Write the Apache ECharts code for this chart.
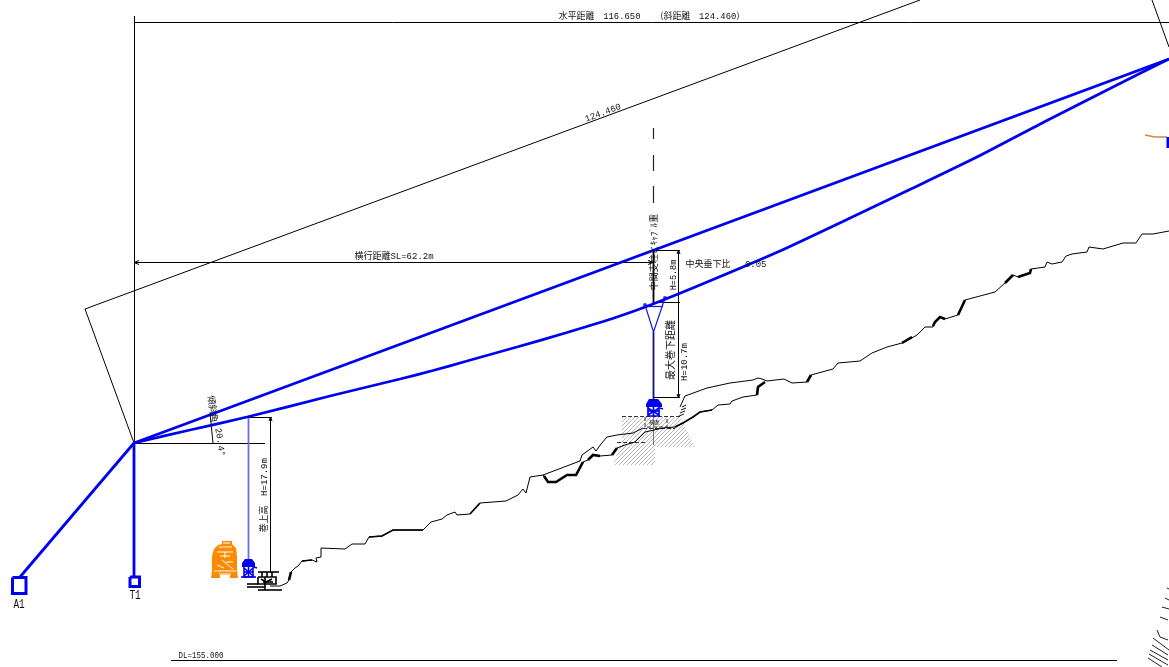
<!DOCTYPE html>
<html><head><meta charset="utf-8">
<style>html,body{margin:0;padding:0;background:#fff}#c{width:1169px;height:667px}</style>
<script src="https://cdn.jsdelivr.net/npm/echarts@6/dist/echarts.min.js"></script>
</head><body><div id="c"></div>
<script>
// All values are in drawing units of the sheet (x to the right, y downward).
const chordLine = [[134,443],[1169,59]];
const cableLine = [[134,443],[190,430],[247,417],[330,396],[400,379],[433,370.5],[467,361],[517,347],[567,332.5],[617,317],[653,304],[700,285],[780,251],[847,219.5],[913,188],[980,155.5],[1047,120.5],[1113,87],[1169,59]];
const anchorStays = [[[134,443],[20,577]],[[134,443],[134,577]]];
const anchorBoxes = [[[12.5,577.5],[26,577.5],[26,593.5],[12.5,593.5],[12.5,577.5]],[[130,577],[139.5,577],[139.5,586.5],[130,586.5],[130,577]]];
const carriageDrop = [[[248.5,417],[248.5,560]]];
const supportDrop = [[[653.5,332],[653.5,400]]];
const supportFrame = [[[645,305],[653.5,332],[665,298]],[[645,306.5],[663,306.5]]];
const supportPins = [[645,305],[665,298]];
const stationEdge = [[[1168,137],[1168,148]]];
const dimensionLines = [
  [[134.5,16],[134.5,443]],[[134,22.5],[1169,22.5]],
  [[85,309],[920,0]],[[85,309],[134,443]],[[1152,0],[1169,47]],
  [[134,262.5],[653,262.5]],[[134,443.5],[265,443.5]],
  [[248,417.5],[272,417.5]],[[270.5,417],[270.5,573]],
  [[653,250.5],[680,250.5]],[[653,302.5],[680,302.5]],[[653,397.5],[680,397.5]],[[678.5,250],[678.5,398]],
  [[210,413],[213,443]],
  [[171,660.5],[1117,660.5]],
  [[139,260.5],[134,262.5],[139,264.5]],[[648,260.5],[653,262.5],[648,264.5]],
  [[677,254],[678.5,250],[680,254]],[[677,394],[678.5,398],[680,394]],[[269,421],[270.5,417],[272,421]]
];
const mastUpper = [[[653.5,250],[653.5,304]]];
const centerDashes = [[[653.5,128],[653.5,139]],[[653.5,155],[653.5,171]],[[653.5,186],[653.5,203]]];
const terrainMain = [[270,586],[280,586],[287,583],[289,580],[291,572],[295,568],[298,566],[302,561],[312,560],[313,562],[317,562],[316,558],[321,557],[321,548],[345,549],[352,544],[365,544],[369,537],[382,536],[393,530],[423,530],[431,522],[442,519],[447,515],[455,512],[457,515],[470,514],[480,503],[506,501],[508,499],[518,495],[523,489],[526,493],[530,477],[543,475],[580,461],[582,455],[593,447],[596,451],[601,444],[607,437],[617,435],[633,433],[643,428]];
const terrainBank = [[680,407],[685,396],[707,388],[730,383],[753,380],[758,378],[762,379],[767,381]];
const terrainLower = [[543,475],[548,482],[556,482],[567,475],[576,475],[583,462],[588,460],[593,455],[600,456],[612,455],[617,448],[625,445],[635,442],[642,435],[645,432],[663,428],[675,427],[683,423],[693,417],[700,412],[712,410],[718,405],[730,404],[732,401],[743,397],[757,395],[758,387],[765,382]];
const terrainRight = [[767,381],[784,379],[792,383],[807,382],[811,375],[833,369],[838,363],[860,361],[872,353],[887,347],[902,343],[910,339],[917,335],[925,327],[933,327],[935,322],[940,317],[945,319],[958,315],[965,300],[995,292],[1005,283],[1013,275],[1018,277],[1030,273],[1031,269],[1045,267],[1047,262],[1052,264],[1062,262],[1066,256],[1072,254],[1087,252],[1089,247],[1103,249],[1123,243],[1136,243],[1142,234],[1153,234],[1169,231]];
const terrainMedium = [
  [[302,561],[312,560]],[[369,537],[382,536],[393,530],[423,530]],[[470,514],[480,503]],
  [[675,427],[683,423],[693,417],[700,412],[712,410]]
];
const terrainHeavy = [
  [[289,580],[291,572]],
  [[544,476],[548,482],[556,482],[567,475],[576,475],[583,462]],[[588,460],[593,455],[600,456]],[[612,455],[617,448]],
  [[757,395],[758,387],[765,382]],
  [[807,382],[811,375]],[[902,343],[912,337]],[[933,326],[935,322],[940,317],[945,319]],[[958,315],[965,300]],
  [[1005,283],[1013,275]],[[1018,277],[1030,273],[1031,269]]
];
const bankTeeth = [[[679,416],[684,414]],[[680,413],[685,411]],[[681,410],[686,408]],[[682,407],[686,405]]];
const foundationDashes = [[[622,416.5],[680,416.5]],[[645,417],[645,427],[667,427],[667,417]],[[643,428.5],[675,428.5]],[[617,442.5],[645,442.5]]];
const foundationAxis = [[[653.5,416],[653.5,445]]];
const groundHatch = [[622,417],[680,417],[695,447],[655,447],[655,465],[613,465],[622,440]];
const windlass = [
  [[258,572],[279,572]],[[262,572],[262,577]],[[267,572],[267,577]],[[272,572],[272,577]],
  [[258,577],[276,577],[276,584],[258,584],[258,577]],[[261,579],[266,582],[272,579]],[[263,582],[273,582]],
  [[247,584],[258,584]],[[247,587],[265,587]],[[258,590],[282,590]],[[265,577],[265,590]]
];
const bluePodADome = [[242,563],[245,559],[252,559],[255,563],[255,567],[242,567]];
const bluePodA = [
  [[244,567],[244,577],[253,577],[253,567]],
  [[248.5,567],[248.5,577]],[[244,572],[253,572]],[[244,568],[253,576]],[[253,568],[244,576]],[[254,567],[257,568]],[[241,577],[256,577]]
];
const bluePodBDome = [[646,404],[649,399],[658,399],[662,404],[662,407],[646,407]];
const bluePodB = [
  [[648,407],[648,416],[659,416],[659,407]],
  [[653.5,407],[653.5,416]],[[648,411],[659,411]],[[648,408],[659,415]],[[659,408],[648,415]],[[660,408],[663,409]]
];
const orangeBody = [[222,541],[232,541],[232,544],[236,548],[237,556],[237,571],[238,578],[230,578],[230,575],[220,575],[220,578],[211,578],[212,571],[212,556],[214,549],[218,545],[222,544]];
const orangeMarks = [[[223,543],[230,543]],[[219,547],[232,547]],[[217,552],[233,552]],[[225,552],[225,558]],[[220,556],[230,556]],[[222,560],[233,569]],[[226,562],[233,562]],[[217,565],[224,568]],[[214,571],[236,571]],[[219,574],[231,574]]];
const stationRope = [[1145,135],[1155,137],[1167,137]];
const fanStrokes = [
  [[1167,588],[1169,589]],[[1165,598],[1169,600]],[[1162,607],[1169,609]],[[1160,617],[1168,620]],
  [[1157,630],[1160,637],[1168,640]],[[1153,638],[1169,650]],[[1152,645],[1168,655]],[[1150,650],[1168,660]],[[1149,654],[1168,665]],[[1148,658],[1162,667]]
];
const labelTexts = ['水平距離　116.650　 （斜距離　124.460）','124.460','横行距離SL=62.2m','中央垂下比　 0.05','中間支柱とｷｬﾌﾞﾙ重','H=5.8m','最大巻下距離','H=10.7m','傾斜角','20.','4°','巻上高','H=17.9m','A1','T1','DL=155.000','基礎'];
const labelX = [652,603,394,726,655,674,671,685,212,219,221,265,265,19,135,201,654];
const labelY = [17,113,257,265,252,275,350,362,409,436,451,519,477,605,596,656,423];
const labelTurn = [0,20.4,0,0,90,90,90,90,-82,-80,-80,90,90,0,0,0,0];
const labelSize = [8.9,9,9,9,9,8.5,10,9,9,9,9,9,9,13,13,9,5];
const labelStretch = [1,1,1,1,1,1,1,1,1,1,1,1,1,0.72,0.72,0.83,1];

const FONT = '"Liberation Mono","Noto Sans CJK JP",monospace';
const BLUE = '#0000f0', INK = '#000';
const series = [];
function lines(list, color, width, type, z) {
  list.forEach(function (pts) {
    series.push({type:'line', data:pts, showSymbol:false, symbol:'none', silent:true, animation:false, z:z||2,
      lineStyle:{color:color, width:width, type:type||'solid', cap:'butt', join:'miter'}});
  });
}
function polygon(pts, fill, z) {
  series.push({type:'custom', coordinateSystem:'cartesian2d', silent:true, animation:false, z:z||1,
    data:[[pts[0][0],pts[0][1]]],
    encode:{x:0,y:1},
    renderItem:function (p, api) {
      return {type:'polygon', shape:{points:pts.map(function (q) {return api.coord(q);})}, style:{fill:fill, stroke:null}};
    }});
}
function hatchPattern() {
  const cv = document.createElement('canvas'); cv.width = 4; cv.height = 4;
  const g = cv.getContext('2d'); g.strokeStyle = '#b0b0b0'; g.lineWidth = 0.9;
  g.beginPath(); g.moveTo(-1,5); g.lineTo(5,-1); g.moveTo(-1,1); g.lineTo(1,-1); g.moveTo(3,5); g.lineTo(5,3); g.stroke();
  return {image:cv, repeat:'repeat'};
}
polygon(groundHatch, hatchPattern(), 1);
polygon(orangeBody, '#ff8a00', 3);
lines(orangeMarks, '#fff', 1, 'solid', 4);
lines(dimensionLines, INK, 1);
lines(mastUpper, '#000', 1.8);
lines(foundationDashes, '#333', 1, [4,2]);
lines(foundationAxis, '#777', 1);
lines(centerDashes, '#222', 1.2);
lines([terrainMain, terrainBank, terrainLower, terrainRight], '#000', 1);
lines(terrainMedium, '#000', 1.7);
lines(terrainHeavy, '#000', 2.6);
lines(bankTeeth, '#111', 1);
lines(windlass, '#000', 1.6);
lines(fanStrokes, '#222', 1);
lines([stationRope], '#c98a3c', 1.4);
lines(carriageDrop, '#6a6aff', 1.8);
lines(supportDrop, '#10107a', 1.8);
lines(supportFrame, '#1818e8', 1.2);
polygon(bluePodADome, BLUE, 5);
polygon(bluePodBDome, BLUE, 5);
lines(bluePodA, BLUE, 1.6, 'solid', 5);
lines(bluePodB, BLUE, 1.7, 'solid', 5);
lines(anchorStays, BLUE, 2.8, 'solid', 6);
lines(anchorBoxes, BLUE, 3, 'solid', 6);
lines(stationEdge, BLUE, 3, 'solid', 6);
lines([chordLine], BLUE, 2.8, 'solid', 6);
series.push({type:'line', data:cableLine, smooth:0.2, showSymbol:false, symbol:'none', silent:true, animation:false, z:6,
  lineStyle:{color:BLUE, width:2.8}});
series.push({type:'scatter', data:supportPins, symbol:'circle', symbolSize:4, silent:true, animation:false, z:6, itemStyle:{color:BLUE}});
series.push({type:'custom', coordinateSystem:'cartesian2d', silent:true, animation:false, z:8,
  data:labelTexts.map(function (t, i) {return [labelX[i], labelY[i], i];}),
  encode:{x:0,y:1},
  renderItem:function (p, api) {
    const i = api.value(2), c = api.coord([api.value(0), api.value(1)]);
    return {type:'text', x:c[0], y:c[1], rotation:labelTurn[i]*Math.PI/180, scaleX:labelStretch[i],
      style:{text:labelTexts[i], fontSize:labelSize[i], fontFamily:FONT, fill:'#111', align:'center', verticalAlign:'middle'}};
  }});
const chart = echarts.init(document.getElementById('c'), null, {renderer:'canvas'});
chart.setOption({
  animation:false, backgroundColor:'#fff',
  grid:{left:0,right:0,top:0,bottom:0},
  xAxis:{type:'value',min:0,max:1169,show:false},
  yAxis:{type:'value',min:0,max:667,inverse:true,show:false},
  series:series
});
</script></body></html>
